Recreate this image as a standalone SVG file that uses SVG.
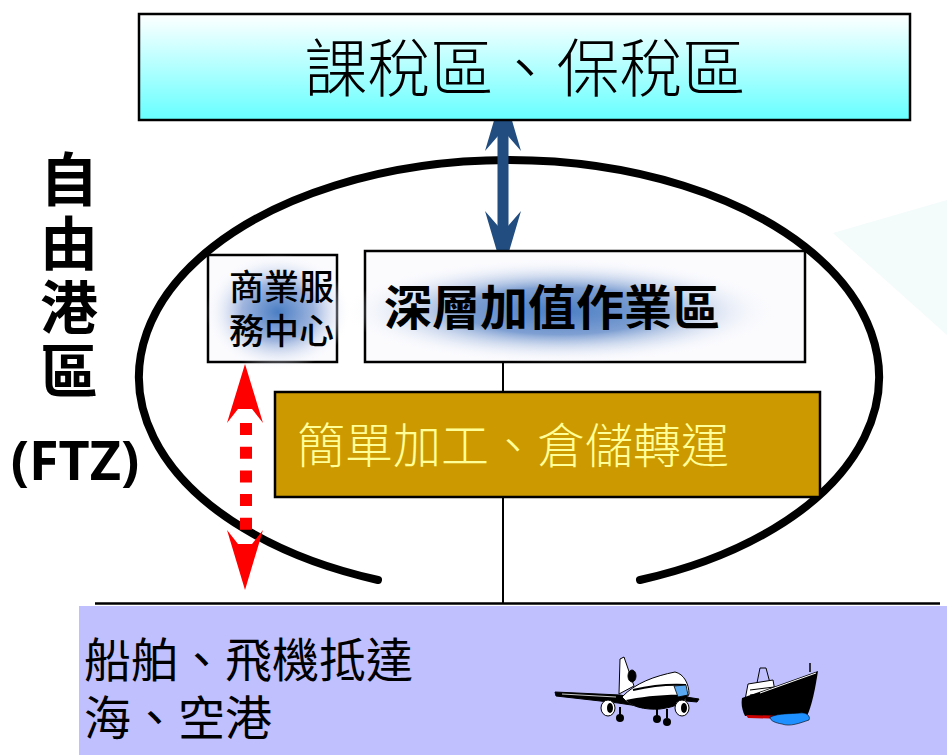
<svg xmlns="http://www.w3.org/2000/svg" width="947" height="755" viewBox="0 0 947 755">
  <style>
    .cjk { font-family: "Noto Sans CJK TC", "Noto Sans CJK SC", sans-serif; }
    .box { stroke: #000; stroke-width: 2.5; }
    .ink { stroke: #000; stroke-width: 1; stroke-linejoin: round; }
  </style>
  <defs>
    <linearGradient id="skyFill" x1="0" y1="0" x2="0" y2="1">
      <stop offset="0" stop-color="#ffffff"/>
      <stop offset="1" stop-color="#66ffff"/>
    </linearGradient>
    <radialGradient id="glowWide" cx="0.5" cy="0.5" r="0.5">
      <stop offset="0" stop-color="#4a7ec4"/>
      <stop offset="0.45" stop-color="#7e9fd2"/>
      <stop offset="1" stop-color="#fbfbfe" stop-opacity="0"/>
    </radialGradient>
    <radialGradient id="glowSmall" cx="0.5" cy="0.5" r="0.5">
      <stop offset="0" stop-color="#4a7ec4"/>
      <stop offset="0.5" stop-color="#9fb5de"/>
      <stop offset="1" stop-color="#fbfbfe" stop-opacity="0"/>
    </radialGradient>
  </defs>

  <rect width="947" height="755" fill="#ffffff"/>

  <!-- faint backdrop wedge on the right -->
  <polygon points="833,233 947,200 947,335" fill="#f3fbfb"/>

  <!-- free trade zone boundary -->
  <path d="M 378 580 A 370 217 0 1 1 640 580" fill="none" stroke="#000" stroke-width="8" stroke-linecap="round"/>

  <!-- connectors -->
  <g id="connectors">
    <line x1="503" y1="362" x2="503" y2="604" stroke="#000" stroke-width="2"/>
    <line x1="95" y1="603.5" x2="940" y2="603.5" stroke="#000" stroke-width="2.5"/>
    <!-- blue two-way arrow -->
    <g fill="#214d80">
      <rect x="497.5" y="130" width="11" height="100"/>
      <polygon points="503,90 521,151 508,136 498,136 485,151"/>
      <polygon points="503,272 521,211 508,226 498,226 485,211"/>
    </g>
    <!-- red dotted two-way arrow -->
    <g fill="#ff0000">
      <polygon points="245,364 263,423 252,409 238,409 227,423"/>
      <polygon points="245,590 263,530 252,544 238,544 227,530"/>
      <line x1="246" y1="423" x2="246" y2="531" stroke="#ff0000" stroke-width="12" stroke-dasharray="12 11.7"/>
    </g>
  </g>

  <g id="bonded-area">
    <rect class="box" x="139" y="14" width="771" height="106" fill="url(#skyFill)"/>
    <text class="cjk" x="525" y="91" font-size="63" font-weight="300" text-anchor="middle" fill="#000">課稅區、保稅區</text>
  </g>

  <g id="service-center">
    <rect class="box" x="208" y="255" width="129" height="107" fill="#fbfbfe"/>
    <ellipse cx="278" cy="312" rx="72" ry="58" fill="url(#glowSmall)"/>
    <text class="cjk" font-size="35" font-weight="500" fill="#000">
      <tspan x="229" y="300">商業服</tspan>
      <tspan x="229" y="344">務中心</tspan>
    </text>
  </g>

  <g id="value-added">
    <rect class="box" x="365" y="251" width="440" height="111" fill="#fbfbfe"/>
    <ellipse cx="560" cy="311" rx="215" ry="52" fill="url(#glowWide)"/>
    <text class="cjk" x="384" y="325" font-size="48" font-weight="bold" fill="#000">深層加值作業區</text>
  </g>

  <g id="simple-processing">
    <rect class="box" x="275" y="392" width="545" height="105" fill="#cc9900"/>
    <text class="cjk" x="297" y="463" font-size="48" font-weight="300" fill="#ffff99">簡單加工、倉儲轉運</text>
  </g>

  <g id="ftz-label">
    <text class="cjk" x="69" y="150" writing-mode="vertical-rl" font-size="58" letter-spacing="6" font-weight="bold" fill="#000">自由港區</text>
    <text x="75" y="480" font-family="'Noto Sans', 'Liberation Sans', sans-serif" font-size="54" font-weight="bold" text-anchor="middle" fill="#000">(FTZ)</text>
  </g>

  <g id="ports">
    <rect x="79" y="606" width="868" height="149" fill="#c0c0ff"/>
    <text class="cjk" font-size="47" fill="#000">
      <tspan x="84" y="677">船舶、飛機抵達</tspan>
      <tspan x="84" y="735">海、空港</tspan>
    </text>

    <!-- airliner -->
    <g id="airliner">
      <path class="ink" d="M555,692 L620,695 L640,699 L638,706 L618,703 L556,696 Z" fill="#000"/>
      <path d="M562,694 L616,697" stroke="#fff" stroke-width="0.8"/>
      <path class="ink" d="M620,659 L624,657 L634,686 L619,694 Z" fill="#fff"/>
      <ellipse class="ink" cx="632" cy="676" rx="4" ry="6" fill="#000"/>
      <path class="ink" d="M622,697 C635,683 655,676 675,672 C684,674 689,684 689,694 C686,702 676,707 660,709 C645,710 630,707 622,697 Z" fill="#fff"/>
      <path d="M626,700 C640,697 665,694 688,695 C685,702 676,707 660,709 C645,710 632,707 626,700 Z" fill="#000"/>
      <path d="M633,690 C650,686 668,684 686,685" stroke="#000" stroke-width="2" fill="none"/>
      <path d="M674,686 L686,685 L688,695 L678,697 Z" fill="#5aa8f0" stroke="#000" stroke-width="0.8"/>
      <path class="ink" d="M686,697 L699,699 L697,702 L686,701 Z" fill="#000"/>
      <ellipse class="ink" cx="608" cy="708" rx="7" ry="8" fill="#fff"/>
      <ellipse cx="610" cy="708" rx="3" ry="5" fill="#000"/>
      <ellipse class="ink" cx="682" cy="708" rx="7" ry="8" fill="#fff"/>
      <ellipse cx="684" cy="708" rx="3" ry="5" fill="#000"/>
      <g fill="#000">
        <rect x="619" y="707" width="2" height="8"/>
        <circle cx="620" cy="718" r="4"/>
        <rect x="656" y="709" width="2" height="7"/>
        <circle cx="657" cy="719" r="4"/>
        <rect x="666" y="709" width="2" height="9"/>
        <circle cx="667" cy="722" r="4"/>
      </g>
    </g>

    <!-- freighter -->
    <g id="freighter">
      <path class="ink" d="M757,683 L760,668 L766,668 L770,683" fill="none" stroke-width="1.5"/>
      <path class="ink" d="M748,684 L773,680 L776,697 L745,700 Z" fill="#fff"/>
      <path d="M750,690 L774,687 M750,695 L775,692" stroke="#000" stroke-width="1"/>
      <line x1="810" y1="663" x2="810" y2="672" stroke="#000" stroke-width="1.5"/>
      <path d="M742,698 L818,671 C815,690 812,705 807,716 L745,716 C742,710 741,704 742,698 Z" fill="#000"/>
      <path d="M760,693 L816,673" stroke="#fff" stroke-width="1"/>
      <path d="M746,715 L790,716 L788,719 L748,718 Z" fill="#cc0000"/>
      <path d="M770,717 C780,713 790,714 800,713 C806,712 811,716 809,720 C800,723 790,727 782,724 C776,723 770,721 770,717 Z" fill="#1e90ff" stroke="#000" stroke-width="0.6"/>
    </g>
  </g>
</svg>
